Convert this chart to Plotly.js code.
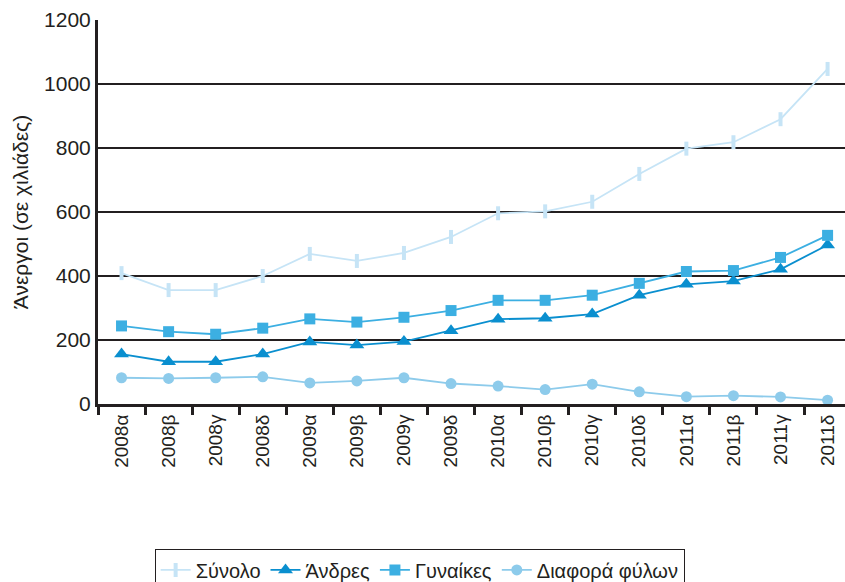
<!DOCTYPE html>
<html><head><meta charset="utf-8">
<script src="https://cdn.plot.ly/plotly-3.0.1.min.js"></script>
<style>html,body{margin:0;padding:0;background:#fff}#chart{width:845px;height:582px}</style>
</head><body><div id="chart"></div>
<script>
const quarters = ["2008α","2008β","2008γ","2008δ","2009α","2009β","2009γ","2009δ","2010α","2010β","2010γ","2010δ","2011α","2011β","2011γ","2011δ"];
const total = [409,356,356,400,469,447,472,522,596,602,632,719,798,818,890,1047];
const men = [156,132,132,156,194,184,195,229,265,268,281,340,374,384,421,497];
const women = [244,226,218,237,266,256,271,292,324,324,340,377,414,417,458,527];
const gap = [82,80,82,85,66,72,82,64,56,45,62,38,23,26,22,12];
const names = ["Σύνολο","Άνδρες","Γυναίκες","Διαφορά φύλων"];

const traces = [
  {x: quarters, y: total, name: names[0], mode: "lines+markers",
   line: {color: "#c6e4f6", width: 1.8},
   marker: {symbol: "line-ns", size: 10, line: {color: "#c6e4f6", width: 4}}},
  {x: quarters, y: men, name: names[1], mode: "lines+markers",
   line: {color: "#0a8fcf", width: 1.8},
   marker: {symbol: "triangle-up", size: 13, color: "#0a8fcf"}},
  {x: quarters, y: women, name: names[2], mode: "lines+markers",
   line: {color: "#3cafe2", width: 1.8},
   marker: {symbol: "square", size: 11, color: "#3cafe2"}},
  {x: quarters, y: gap, name: names[3], mode: "lines+markers",
   line: {color: "#8dcbeb", width: 1.8},
   marker: {symbol: "circle", size: 11, color: "#8dcbeb"}}
];

const layout = {
  width: 845, height: 582,
  margin: {l: 98, r: 0, t: 20, b: 178},
  paper_bgcolor: "#fff", plot_bgcolor: "#fff",
  font: {family: "Liberation Sans, Arial, sans-serif", size: 19, color: "#231f20"},
  showlegend: true,
  legend: {orientation: "h", xref: "container", yref: "container", x: 0.183, y: 0.056,
           xanchor: "left", yanchor: "top",
           bordercolor: "#231f20", borderwidth: 1, font: {size: 20}, tracegroupgap: 0},
  xaxis: {type: "category", range: [-0.5, 15.37], tickangle: -90,
          tickson: "boundaries", ticks: "outside", ticklen: 8, tickwidth: 2.5, tickcolor: "#231f20",
          showline: true, linecolor: "#231f20", linewidth: 3, showgrid: false,
          tickfont: {size: 19}, automargin: false},
  yaxis: {range: [0, 1200], dtick: 200, showline: true, linecolor: "#231f20", linewidth: 3,
          showgrid: true, gridcolor: "#231f20", gridwidth: 1.5, zeroline: false,
          ticks: "", tickfont: {size: 21}, automargin: false,
          title: {text: "Άνεργοι (σε χιλιάδες)", font: {size: 21}, standoff: 10}}
};
Plotly.newPlot("chart", traces, layout, {displayModeBar: false});
</script></body></html>
